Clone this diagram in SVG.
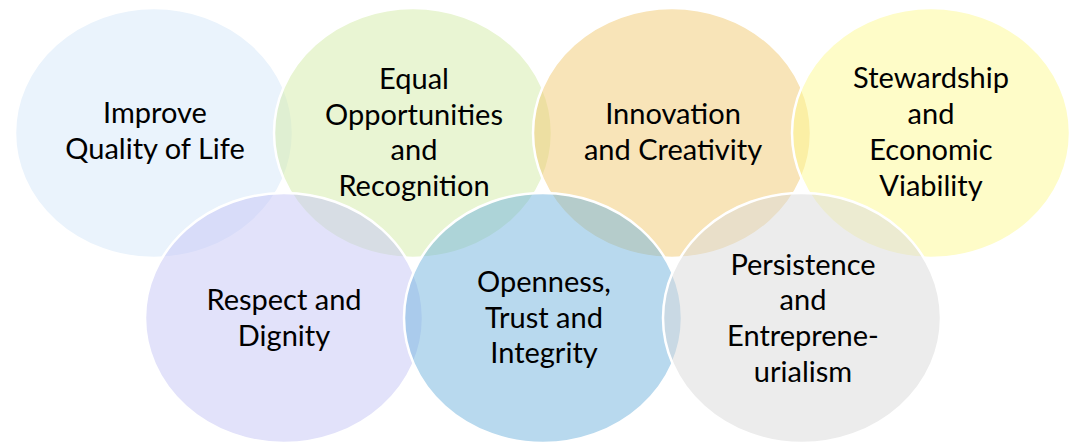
<svg xmlns="http://www.w3.org/2000/svg" width="1076" height="443" viewBox="0 0 1076 443">
  <style>
    .c { stroke: #ffffff; stroke-width: 2.5; fill-opacity: 0.5; }
    .t { font-family: "Lato", "Liberation Sans", sans-serif; font-size: 29px; fill: #000000; text-anchor: middle; }
  </style>
  <rect width="1076" height="443" fill="#ffffff"/>
  <g id="node-improve">
    <ellipse class="c" cx="154" cy="133" rx="139" ry="125" fill="#d5e7f9"/>
    <text class="t" x="155" y="123">Improve</text>
    <text class="t" x="155" y="159">Quality of Life</text>
  </g>
  <g id="node-equal">
    <ellipse class="c" cx="413" cy="133" rx="139" ry="125" fill="#d3eba7"/>
    <text class="t" x="414" y="89">Equal</text>
    <text class="t" x="414" y="125">Opportunities</text>
    <text class="t" x="414" y="160">and</text>
    <text class="t" x="414" y="196">Recognition</text>
  </g>
  <g id="node-innovation">
    <ellipse class="c" cx="672" cy="133" rx="139" ry="125" fill="#f1c971"/>
    <text class="t" x="673" y="124">Innovation</text>
    <text class="t" x="673" y="160">and Creativity</text>
  </g>
  <g id="node-stewardship">
    <ellipse class="c" cx="931" cy="133" rx="139" ry="125" fill="#fdf991"/>
    <text class="t" x="931" y="88">Stewardship</text>
    <text class="t" x="931" y="124">and</text>
    <text class="t" x="931" y="160">Economic</text>
    <text class="t" x="931" y="196">Viability</text>
  </g>
  <g id="node-respect">
    <ellipse class="c" cx="284" cy="318" rx="139" ry="125" fill="#c5c5f5"/>
    <text class="t" x="284" y="310">Respect and</text>
    <text class="t" x="284" y="346">Dignity</text>
  </g>
  <g id="node-openness">
    <ellipse class="c" cx="543" cy="318" rx="139" ry="125" fill="#71b3dd"/>
    <text class="t" x="544" y="292">Openness,</text>
    <text class="t" x="544" y="328">Trust and</text>
    <text class="t" x="544" y="363">Integrity</text>
  </g>
  <g id="node-persistence">
    <ellipse class="c" cx="802" cy="318" rx="139" ry="125" fill="#d9d9d9"/>
    <text class="t" x="803" y="275">Persistence</text>
    <text class="t" x="803" y="310">and</text>
    <text class="t" x="803" y="346">Entreprene-</text>
    <text class="t" x="803" y="382">urialism</text>
  </g>
  <g id="connectors"/>
</svg>
